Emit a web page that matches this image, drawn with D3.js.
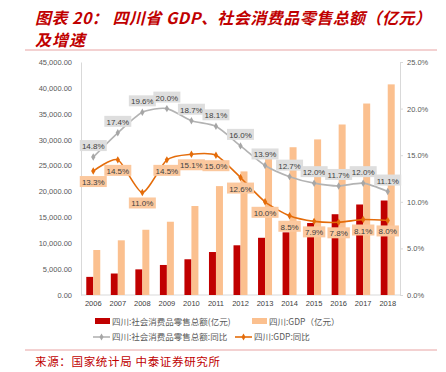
<!DOCTYPE html>
<html><head><meta charset="utf-8">
<script src="https://cdn.jsdelivr.net/npm/d3@7"></script>
<style>
html,body{margin:0;padding:0;background:#fff;}
svg{display:block;font-family:"Noto Sans CJK SC","DejaVu Sans",sans-serif;}
</style></head>
<body><svg id="c" width="446" height="372"></svg>
<script>
const years = ["2006","2007","2008","2009","2010","2011","2012","2013","2014","2015","2016","2017","2018"];
const retail = [3500, 4150, 4950, 5800, 6900, 8300, 9600, 11050, 12100, 13900, 15600, 17480, 18250];
const gdp = [8690, 10560, 12600, 14150, 17185, 21030, 23870, 26260, 28540, 30050, 32930, 36980, 40680];
const retailYoy = [14.8, 17.4, 19.6, 20.0, 18.7, 18.1, 16.0, 13.9, 12.7, 12.0, 11.7, 12.0, 11.1];
const gdpYoy = [13.3, 14.5, 11.0, 14.5, 15.1, 15.0, 12.6, 10.0, 8.5, 7.9, 7.8, 8.1, 8.0];
const leftTicks = [0, 5000, 10000, 15000, 20000, 25000, 30000, 35000, 40000, 45000];
const rightTicks = [0, 5, 10, 15, 20, 25];

const svg = d3.select("#c");
const red = "#c00000", orange = "#fbc08f", oline = "#e46c0a", gline = "#b3b3b3", gmark = "#a6a6a6";
const title = "#c00000";

// Title
svg.append("text").attr("x", 35).attr("y", 24).attr("fill", title)
  .attr("font-size", 16).attr("font-weight", "bold").attr("font-style", "italic")
  .attr("textLength", 396).attr("lengthAdjust", "spacing")
  .text("图表 20： 四川省 GDP、社会消费品零售总额（亿元）");
svg.append("text").attr("x", 35).attr("y", 46).attr("fill", title)
  .attr("font-size", 16).attr("font-weight", "bold").attr("font-style", "italic")
  .attr("textLength", 50).attr("lengthAdjust", "spacing")
  .text("及增速");
svg.append("line").attr("x1", 25).attr("x2", 437).attr("y1", 50).attr("y2", 50)
  .attr("stroke", "#e8a3a3").attr("stroke-width", 1);
svg.append("line").attr("x1", 25).attr("x2", 437).attr("y1", 350).attr("y2", 350)
  .attr("stroke", "#e8a3a3").attr("stroke-width", 1);
svg.append("text").attr("x", 35).attr("y", 366).attr("fill", title)
  .attr("font-size", 11.5).attr("textLength", 185).attr("lengthAdjust", "spacing")
  .text("来源：国家统计局 中泰证券研究所");

const x = d3.scaleBand().domain(years).range([81, 400]).paddingInner(0.43).paddingOuter(0.215);
const yL = d3.scaleLinear().domain([0, 45000]).range([295, 62]);
const yR = d3.scaleLinear().domain([0, 25]).range([295, 62]);
const bw = x.bandwidth() / 2;

// Axes
const axL = svg.append("g").attr("transform", "translate(81,0)")
  .call(d3.axisLeft(yL).tickValues(leftTicks).tickSize(0).tickPadding(9)
    .tickFormat(d => d3.format(",.2f")(d)));
axL.select(".domain").attr("stroke", "#d9d9d9");
axL.selectAll("text").attr("fill", "#595959").attr("font-size", 7.5).attr("font-family", "Liberation Sans, Arial, sans-serif");

const axR = svg.append("g").attr("transform", "translate(400,0)")
  .call(d3.axisRight(yR).tickValues(rightTicks).tickSize(3).tickPadding(4)
    .tickFormat(d => d.toFixed(1) + "%"));
axR.select(".domain").attr("stroke", "#d9d9d9");
axR.selectAll(".tick line").attr("stroke", "#d9d9d9");
axR.selectAll("text").attr("fill", "#595959").attr("font-size", 7.5).attr("font-family", "Liberation Sans, Arial, sans-serif");

const axB = svg.append("g").attr("transform", "translate(0,295)")
  .call(d3.axisBottom(x).tickSize(0).tickPadding(6));
axB.select(".domain").attr("stroke", "#d9d9d9").attr("d", "M81,0H400");
axB.selectAll("text").attr("fill", "#404040").attr("font-size", 7.5).attr("font-family", "Liberation Sans, Arial, sans-serif");

// Bars
svg.append("g").selectAll("rect").data(years).join("rect")
  .attr("x", d => x(d)).attr("width", bw)
  .attr("y", (d, i) => yL(retail[i])).attr("height", (d, i) => 295 - yL(retail[i]))
  .attr("fill", red);
svg.append("g").selectAll("rect").data(years).join("rect")
  .attr("x", d => x(d) + bw).attr("width", bw)
  .attr("y", (d, i) => yL(gdp[i])).attr("height", (d, i) => 295 - yL(gdp[i]))
  .attr("fill", orange);

const cx = d => x(d) + x.bandwidth() / 2;
const line = d3.line().curve(d3.curveCardinal.tension(0.3));

function series(vals, color, mcolor, bg, dy) {
  const pts = years.map((d, i) => [cx(d), yR(vals[i])]);
  svg.append("path").attr("d", line(pts)).attr("fill", "none")
    .attr("stroke", color).attr("stroke-width", 1.6);
  svg.append("g").selectAll("path").data(pts).join("path")
    .attr("transform", p => `translate(${p[0]},${p[1]})`)
    .attr("d", d3.symbol(d3.symbolDiamond, 16)).attr("fill", mcolor);
  const g = svg.append("g");
  pts.forEach((p, i) => {
    const t = vals[i].toFixed(1) + "%";
    const w = t.length * 4.6 + 4;
    g.append("rect").attr("x", p[0] - w / 2).attr("y", p[1] + dy - 6).attr("width", w).attr("height", 11)
      .attr("fill", bg);
    g.append("text").attr("x", p[0]).attr("y", p[1] + dy + 3).attr("text-anchor", "middle")
      .attr("font-size", 8).attr("fill", "#404040").attr("font-family", "Liberation Sans, Arial, sans-serif").text(t);
  });
}
series(retailYoy, gline, gmark, "#dedede", -11);
series(gdpYoy, oline, oline, "#fbc89e", 11);

// Legend
const lg = svg.append("g").attr("font-size", 8.5).attr("fill", "#595959");
lg.append("rect").attr("x", 95).attr("y", 318).attr("width", 15).attr("height", 6).attr("fill", red);
lg.append("text").attr("x", 112).attr("y", 324.5).text("四川:社会消费品零售总额(亿元)");
lg.append("rect").attr("x", 252).attr("y", 318).attr("width", 15).attr("height", 6).attr("fill", orange);
lg.append("text").attr("x", 269).attr("y", 324.5).text("四川:GDP（亿元）");
lg.append("line").attr("x1", 93).attr("x2", 110).attr("y1", 337).attr("y2", 337).attr("stroke", gline).attr("stroke-width", 1.6);
lg.append("path").attr("transform", "translate(101.5,337)").attr("d", d3.symbol(d3.symbolDiamond, 14)).attr("fill", gmark);
lg.append("text").attr("x", 112).attr("y", 340).text("四川:社会消费品零售总额:同比");
lg.append("line").attr("x1", 235).attr("x2", 252).attr("y1", 337).attr("y2", 337).attr("stroke", oline).attr("stroke-width", 1.6);
lg.append("path").attr("transform", "translate(243.5,337)").attr("d", d3.symbol(d3.symbolDiamond, 14)).attr("fill", oline);
lg.append("text").attr("x", 254).attr("y", 340).text("四川:GDP:同比");
</script></body></html>
